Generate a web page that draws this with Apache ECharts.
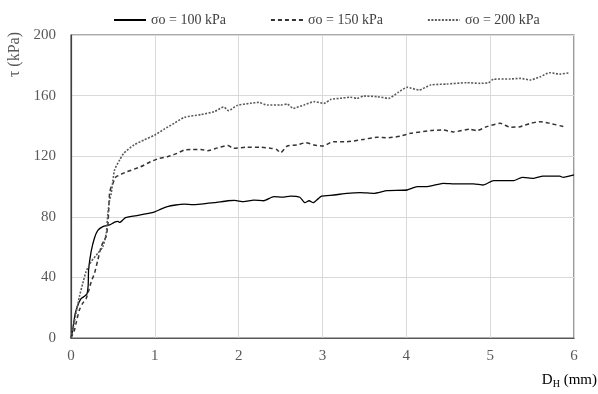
<!DOCTYPE html>
<html>
<head>
<meta charset="utf-8">
<script src="https://cdn.jsdelivr.net/npm/echarts@6/dist/echarts.min.js"></script>
<style>
  html, body { margin: 0; padding: 0; background: #fff; }
  #chart { width: 598px; height: 394px; }
</style>
</head>
<body>
<div id="chart"></div>
<script>
// Shear stress vs horizontal displacement for three normal stresses
const seriesNames = ['σo = 100 kPa', 'σo = 150 kPa', 'σo = 200 kPa'];
const xTicks = [0, 1, 2, 3, 4, 5, 6];
const yTicks = [0, 40, 80, 120, 160, 200];

// [D_H (mm), τ (kPa)]
const s100 = [[0,0],[0.02,5],[0.03,9],[0.05,16],[0.08,21.5],[0.12,26],[0.16,27.5],[0.19,29],[0.205,35],[0.21,45],[0.24,57],[0.28,66],[0.32,71],[0.38,73.5],[0.46,74.6],[0.52,76.5],[0.56,77],[0.58,76.3],[0.62,78],[0.65,79.5],[0.8,81],[0.97,82.7],[1.05,84.5],[1.15,86.7],[1.25,87.8],[1.35,88.4],[1.45,88],[1.55,88.4],[1.71,89.3],[1.87,90.6],[1.95,90.8],[2.06,90],[2.18,91],[2.3,90.6],[2.42,93.3],[2.52,93],[2.62,93.7],[2.73,92.9],[2.79,89.3],[2.84,90.6],[2.89,89.3],[2.95,92],[2.99,93.7],[3.14,94.4],[3.29,95.5],[3.45,96],[3.61,95.5],[3.77,97.3],[4.01,97.7],[4.13,99.9],[4.25,99.9],[4.44,102.1],[4.6,101.7],[4.8,101.7],[4.92,101],[5.04,103.9],[5.28,103.9],[5.38,106],[5.52,105.4],[5.63,106.9],[5.83,106.9],[5.87,106],[6.0,107.6]];
const s150 = [[0,0],[0.04,5],[0.06,9.7],[0.1,18.5],[0.14,23],[0.18,26],[0.21,31],[0.24,37],[0.28,42.7],[0.32,51.5],[0.36,60.3],[0.4,65],[0.42,67],[0.44,75],[0.45,85],[0.46,95.5],[0.48,100],[0.5,102],[0.52,105],[0.54,106.5],[0.67,109.8],[0.83,113],[0.95,116.4],[1.05,118.5],[1.15,119.7],[1.25,121.5],[1.35,124.1],[1.45,124.5],[1.55,124.5],[1.63,123.6],[1.75,125.5],[1.87,127],[1.94,125.2],[2.1,125.9],[2.26,125.9],[2.38,125.2],[2.45,124.5],[2.5,122.3],[2.58,126.7],[2.7,127.5],[2.8,128.9],[2.9,127.4],[3.0,126.7],[3.13,129.6],[3.29,129.6],[3.49,131.1],[3.65,132.5],[3.79,132.2],[3.93,133.3],[4.05,135.1],[4.29,136.9],[4.44,137.3],[4.56,136],[4.76,137.8],[4.84,136.9],[4.96,139.5],[5.12,141.7],[5.24,139.1],[5.36,139.5],[5.48,141.7],[5.6,142.8],[5.71,141.7],[5.88,139.5]];
const s200 = [[0,0],[0.03,8],[0.06,16.3],[0.1,27.3],[0.14,36],[0.18,43.8],[0.24,50.4],[0.32,55.9],[0.38,60.3],[0.42,69],[0.44,82.3],[0.46,91],[0.48,95.5],[0.5,104],[0.52,111],[0.58,117.5],[0.63,122],[0.75,127.4],[0.87,130.7],[1.0,134],[1.11,137.8],[1.23,141.7],[1.35,145.6],[1.55,147.5],[1.71,149.4],[1.82,152.5],[1.88,150.1],[1.98,153.5],[2.14,154.9],[2.24,155.5],[2.34,153.8],[2.5,153.8],[2.58,154.4],[2.65,151.6],[2.78,153.8],[2.9,156],[3.02,154.9],[3.1,157.5],[3.21,158.2],[3.33,158.9],[3.41,158.2],[3.49,159.7],[3.65,159.3],[3.79,158.2],[3.9,162],[4.01,165.5],[4.15,163.7],[4.29,167],[4.48,167.6],[4.72,168.5],[4.88,168.1],[4.98,168.5],[5.04,170.8],[5.24,171],[5.36,171.4],[5.48,170.3],[5.6,172.5],[5.71,175.1],[5.83,174.2],[5.95,175.1]];

const FONT = '"Liberation Serif", "Times New Roman", serif';
const chart = echarts.init(document.getElementById('chart'), null, { renderer: 'canvas' });

function lineSeries(name, data, color, width, type) {
  return {
    name, type: 'line', data, symbol: 'none', smooth: 0.2,
    lineStyle: { color, width, type },
    itemStyle: { color },
    animation: false
  };
}

chart.setOption({
  animation: false,
  backgroundColor: '#fff',
  grid: { left: 71, right: 24, top: 35, bottom: 56, show: true, borderColor: '#595959', borderWidth: 1.2 },
  legend: {
    top: 8, left: 108,
    itemWidth: 32, itemHeight: 12, itemGap: 44,
    itemStyle: { opacity: 0 },
    textStyle: { fontFamily: FONT, fontSize: 14, color: '#404040' },
    data: seriesNames
  },
  xAxis: {
    type: 'value', min: xTicks[0], max: xTicks[xTicks.length - 1], interval: 1,
    axisLine: { show: true, lineStyle: { color: '#595959', width: 1.2 } },
    axisTick: { show: false },
    splitLine: { show: true, lineStyle: { color: '#d9d9d9', width: 1 } },
    axisLabel: { fontFamily: FONT, fontSize: 15, color: '#595959', margin: 11 }
  },
  yAxis: {
    type: 'value', min: yTicks[0], max: yTicks[yTicks.length - 1], interval: 40,
    axisLine: { show: true, lineStyle: { color: '#404040', width: 1.2 } },
    axisTick: { show: false },
    splitLine: { show: true, lineStyle: { color: '#d9d9d9', width: 1 } },
    axisLabel: { fontFamily: FONT, fontSize: 15, color: '#595959', margin: 15 }
  },
  graphic: [
    {
      type: 'text', left: 7, top: 32, rotation: Math.PI / 2,
      style: { text: 'τ (kPa)', font: '16px ' + FONT, fill: '#595959' }
    },
    {
      type: 'text', right: 1, top: 373,
      style: {
        text: '{d|D}{s|H}{d| (mm)}',
        rich: {
          d: { fontFamily: FONT, fontSize: 15, color: '#595959' },
          s: { fontFamily: FONT, fontSize: 10, color: '#595959', padding: [7, 0, 0, 0] }
        }
      }
    }
  ],
  series: [
    lineSeries(seriesNames[0], s100, '#000000', 1.3, 'solid'),
    lineSeries(seriesNames[1], s150, '#333333', 1.5, [4, 3]),
    lineSeries(seriesNames[2], s200, '#5a5a5a', 1.6, [2, 1.5])
  ]
});
</script>
</body>
</html>
